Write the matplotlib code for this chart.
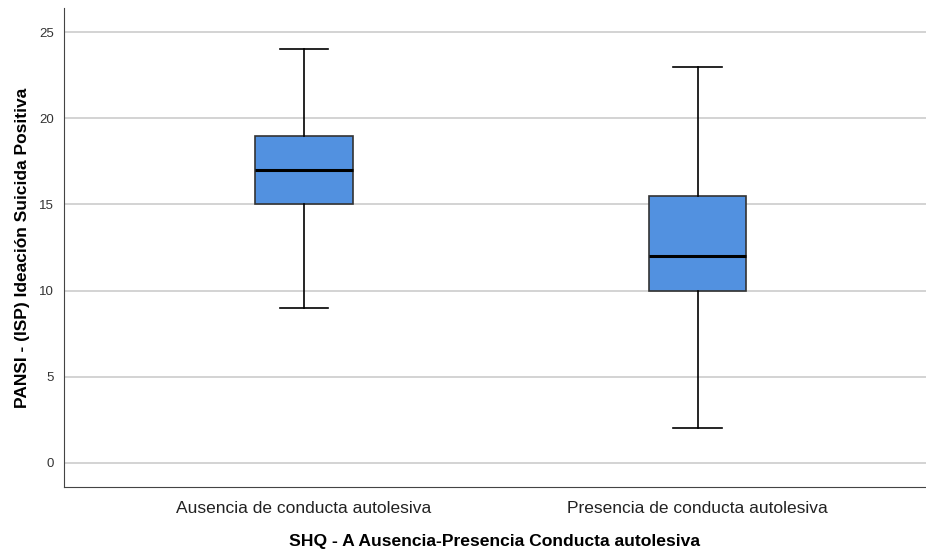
import matplotlib
matplotlib.use('Agg')
import matplotlib.pyplot as plt

plt.rcParams['font.family'] = ['Liberation Sans', 'DejaVu Sans']

# datos del diagrama de cajas
grupos = ['Ausencia de conducta autolesiva', 'Presencia de conducta autolesiva']
minimos = [9, 2]
q1 = [15, 10]
medianas = [17, 12]
q3 = [19, 15.5]
maximos = [24, 23]

stats = []
for i in range(len(grupos)):
    stats.append({'whislo': minimos[i], 'q1': q1[i], 'med': medianas[i],
                  'q3': q3[i], 'whishi': maximos[i], 'label': grupos[i]})

fig = plt.figure(figsize=(9.26, 5.53), dpi=100)
ax = fig.add_axes([0.0691, 0.1193, 0.9309, 0.8662])

ax.bxp(stats, positions=[1, 2], widths=0.247, showfliers=False, patch_artist=True,
       boxprops=dict(facecolor='#5291E0', edgecolor='#333333', linewidth=1.2),
       medianprops=dict(color='black', linewidth=2.2),
       whiskerprops=dict(color='black', linewidth=1.2),
       capprops=dict(color='black', linewidth=1.2), capwidths=0.124)

ax.set_xlim(0.39, 2.58)
ax.set_ylim(-1.4, 26.4)
ax.set_yticks([0, 5, 10, 15, 20, 25])
ax.yaxis.grid(True, color='#cccccc', linewidth=1.2)
ax.set_axisbelow(True)

ax.spines['top'].set_visible(False)
ax.spines['right'].set_visible(False)
ax.spines['left'].set_color('#444444')
ax.spines['bottom'].set_color('#444444')
ax.tick_params(axis='y', length=0, labelsize=9.5, labelcolor='#333333', pad=7)
ax.tick_params(axis='x', length=0, labelsize=12.5, labelcolor='#222222', pad=10)

ax.set_xlabel('SHQ - A Ausencia-Presencia Conducta autolesiva', fontsize=12.6,
              fontweight='bold', labelpad=13)
ax.set_ylabel('PANSI - (ISP) Ideación Suicida Positiva', fontsize=12.5,
              fontweight='bold', labelpad=7)

fig.savefig('out.png', dpi=100)
